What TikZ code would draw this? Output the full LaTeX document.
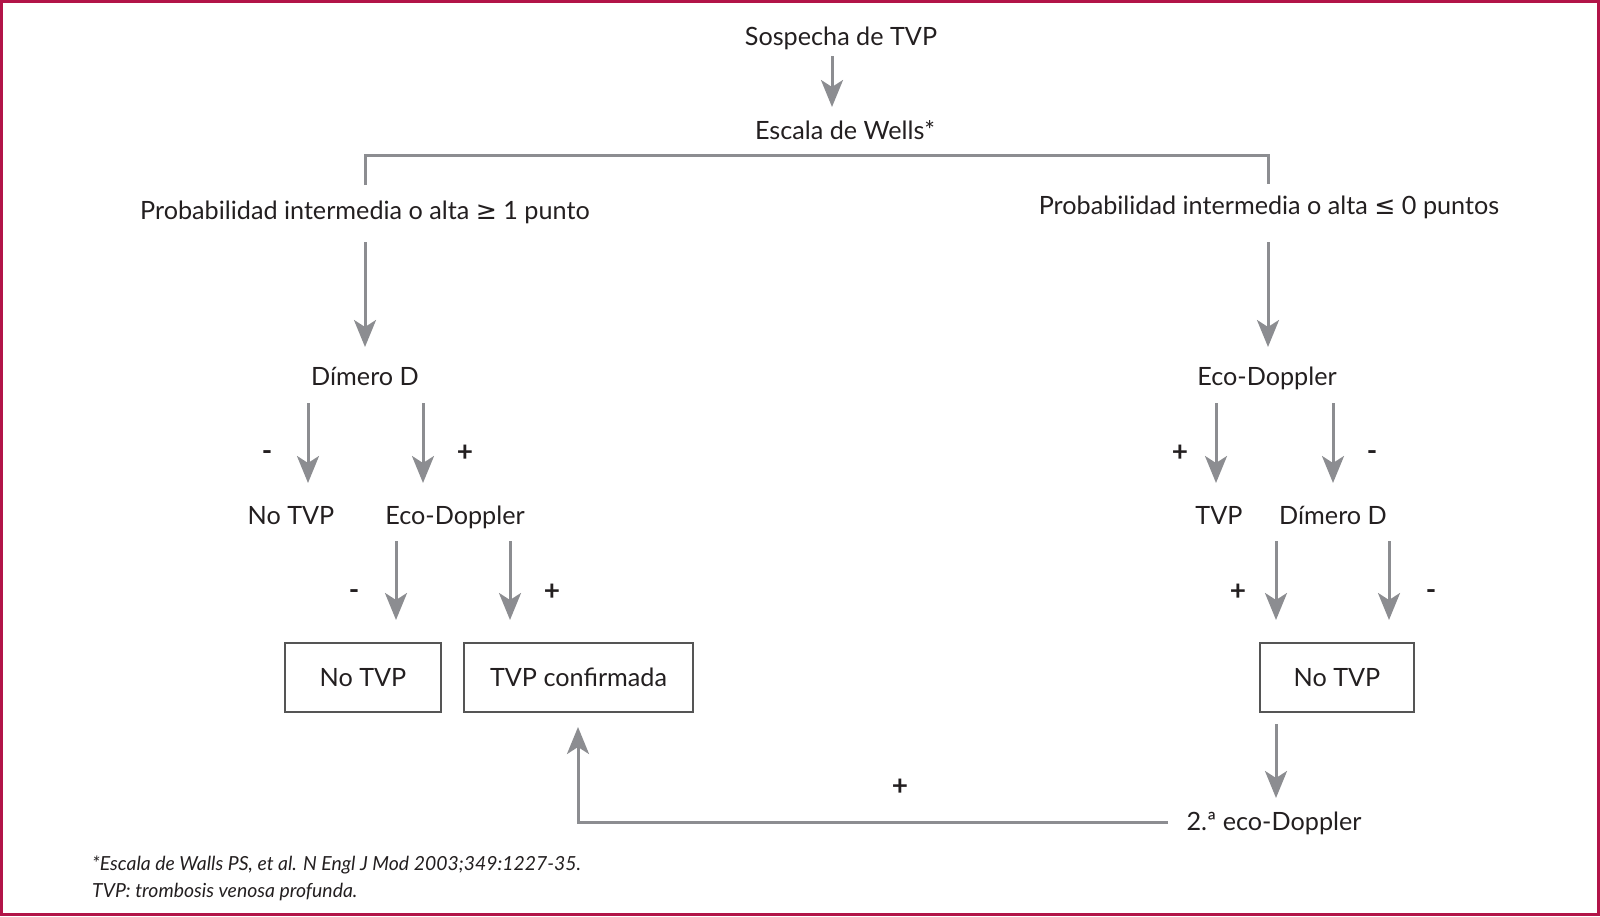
\documentclass[tikz,border=0pt]{standalone}
\usepackage{fontspec}
\setmainfont{Lato}
\newfontfamily\symfont{DejaVu Sans}
\usetikzlibrary{arrows.meta}
\definecolor{arrgray}{RGB}{140,141,145}
\definecolor{txt}{RGB}{35,31,32}
\definecolor{frame}{RGB}{178,20,72}
\definecolor{boxline}{RGB}{85,85,85}
\tikzset{
  lbl/.style={anchor=base, inner sep=0pt, text=txt, font=\fontsize{25.2}{29}\selectfont},
  sgn/.style={anchor=center, inner sep=0pt, text=txt, font=\fontsize{28}{32}\selectfont\bfseries},
  note/.style={anchor=base west, inner sep=0pt, text=txt, font=\fontsize{19.4}{23}\selectfont\itshape},
  boxnode/.style={draw=boxline, line width=1.3pt, inner sep=0pt, text=txt, font=\fontsize{25.2}{29}\selectfont},
  conn/.style={draw=arrgray, line width=3pt},
  arr/.style={conn, -{Stealth[length=27pt,width=22pt,inset=7pt]}},
}
\begin{document}
\begin{tikzpicture}[x=1pt,y=-1pt]
\useasboundingbox (0,0) rectangle (1600,916);
\draw[frame, line width=3pt] (1.5,1.5) rectangle (1598.5,914.5);

% text nodes
\node[lbl] (sos) at (841,45) {Sospecha de TVP};
\node[lbl] (esc) at (845,139) {Escala de Wells*};
\node[lbl] (probL) at (365,219) {Probabilidad intermedia o alta {\symfont ≥} 1 punto};
\node[lbl] (probR) at (1269,214) {Probabilidad intermedia o alta {\symfont ≤} 0 puntos};
\node[lbl] (dimL) at (365,385) {Dímero D};
\node[lbl] (ecoR) at (1267,385) {Eco-Doppler};
\node[lbl] (notvpL) at (291,524) {No TVP};
\node[lbl] (ecoL) at (455,524) {Eco-Doppler};
\node[lbl] (tvpR) at (1219,524) {TVP};
\node[lbl] (dimR) at (1333,524) {Dímero D};
\node[lbl] (eco2) at (1274,830) {2.ª eco-Doppler};

% boxes
\node[boxnode, minimum width=156pt, minimum height=69pt] (box1) at (363,677.5) {No TVP};
\node[boxnode, minimum width=229pt, minimum height=69pt] (box2) at (578.5,677.5) {TVP confirmada};
\node[boxnode, minimum width=154pt, minimum height=69pt] (box3) at (1337,677.5) {No TVP};

% signs
\node[sgn] (s1) at (267,456) {-};
\node[sgn] (s2) at (465,453) {+};
\node[sgn] (s3) at (354,595) {-};
\node[sgn] (s4) at (552,592) {+};
\node[sgn] (s5) at (1180,453) {+};
\node[sgn] (s6) at (1372,456) {-};
\node[sgn] (s7) at (1238,592) {+};
\node[sgn] (s8) at (1431,595) {-};
\node[sgn] (s9) at (900,787) {+};

% footnote
\node[note] (n1) at (92,870) {*Escala de Walls PS, et al. N Engl J Mod 2003;349:1227-35.};
\node[note] (n2) at (92,897) {TVP: trombosis venosa profunda.};

% connector coordinates
\coordinate (a0s) at (832,56);   \coordinate (a0e) at (832,107);
\coordinate (bl) at (365,185);   \coordinate (blt) at (365,155);
\coordinate (brt) at (1268,155); \coordinate (br) at (1268,184);
\coordinate (aLs) at (365,242);  \coordinate (aLe) at (365,347);
\coordinate (aRs) at (1268,242); \coordinate (aRe) at (1268,347);
\coordinate (l1s) at (308,403);  \coordinate (l1e) at (308,483);
\coordinate (l2s) at (423,403);  \coordinate (l2e) at (423,483);
\coordinate (l3s) at (396,541);  \coordinate (l3e) at (396,620);
\coordinate (l4s) at (510,541);  \coordinate (l4e) at (510,620);
\coordinate (r1s) at (1216,403); \coordinate (r1e) at (1216,483);
\coordinate (r2s) at (1333,403); \coordinate (r2e) at (1333,483);
\coordinate (r3s) at (1276,541); \coordinate (r3e) at (1276,620);
\coordinate (r4s) at (1389,541); \coordinate (r4e) at (1389,620);
\coordinate (r5s) at (1276,724); \coordinate (r5e) at (1276,798);
\coordinate (fbs) at (1168,822); \coordinate (fbc) at (578,822); \coordinate (fbe) at (578,727);

\draw[arr] (a0s) -- (a0e);
\draw[conn] (bl) -- (blt) -- (brt) -- (br);
\draw[arr] (aLs) -- (aLe);
\draw[arr] (aRs) -- (aRe);
\draw[arr] (l1s) -- (l1e);
\draw[arr] (l2s) -- (l2e);
\draw[arr] (l3s) -- (l3e);
\draw[arr] (l4s) -- (l4e);
\draw[arr] (r1s) -- (r1e);
\draw[arr] (r2s) -- (r2e);
\draw[arr] (r3s) -- (r3e);
\draw[arr] (r4s) -- (r4e);
\draw[arr] (r5s) -- (r5e);
\draw[arr] (fbs) -- (fbc) -- (fbe);
\end{tikzpicture}
\end{document}
